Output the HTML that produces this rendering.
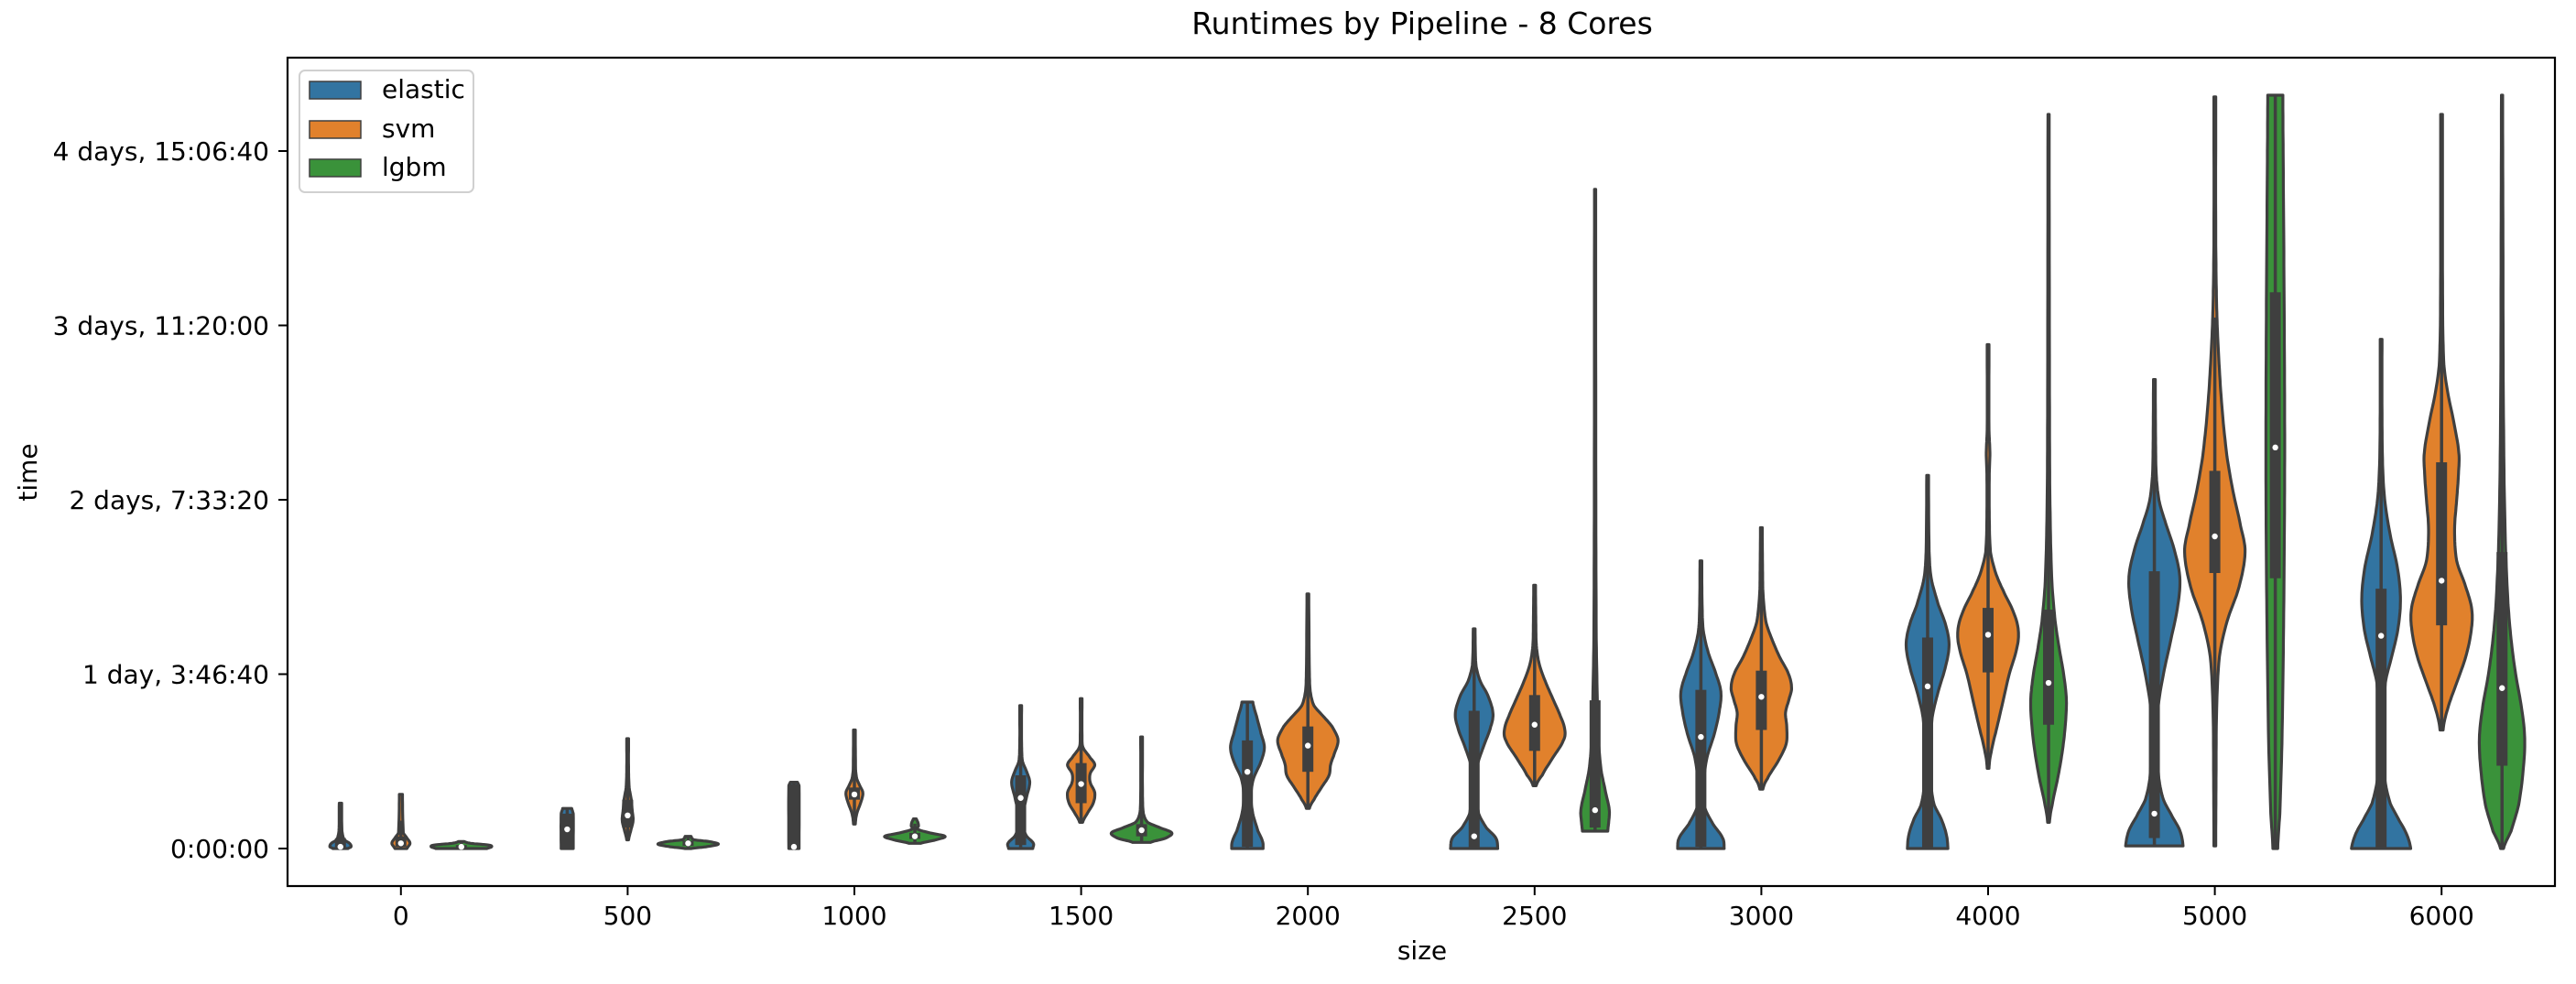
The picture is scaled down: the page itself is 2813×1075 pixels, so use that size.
<!DOCTYPE html>
<html><head><meta charset="utf-8"><style>
html,body{margin:0;padding:0;background:#fff;}
svg{display:block;font-family:"DejaVu Sans","Liberation Sans",sans-serif;}
</style></head><body>
<svg id="chart" width="2813" height="1075" viewBox="0 0 2813 1075" xmlns="http://www.w3.org/2000/svg">
<rect x="0" y="0" width="2813" height="1075" fill="#fff"/>
<text x="1553" y="37" font-size="33" text-anchor="middle" fill="#000">Runtimes by Pipeline - 8 Cores</text>
<g id="violins"></g>
<rect x="314" y="63" width="2476" height="905" fill="none" stroke="#000" stroke-width="2.2"/>
<g id="yticks"></g>
<g id="xticks"></g>
<text x="1553" y="1048" font-size="28" text-anchor="middle">size</text>
<text x="0" y="0" font-size="28" text-anchor="middle" transform="translate(40,516) rotate(-90)">time</text>
<g id="legend">
<rect x="327" y="77" width="190" height="133" rx="6" fill="#fff" fill-opacity="0.8" stroke="#d0d0d0" stroke-width="2"/>
<rect x="338" y="89" width="56" height="19" fill="#3274a1" stroke="#3f3f3f" stroke-width="1.5"/>
<text x="417" y="107" font-size="28">elastic</text>
<rect x="338" y="132" width="56" height="19" fill="#e1812c" stroke="#3f3f3f" stroke-width="1.5"/>
<text x="417" y="150" font-size="28">svm</text>
<rect x="338" y="174" width="56" height="19" fill="#3a923a" stroke="#3f3f3f" stroke-width="1.5"/>
<text x="417" y="192" font-size="28">lgbm</text>
</g>
</svg>
<script>
// ---- data (values in thousands of seconds) ----
const categories = ["0","500","1000","1500","2000","2500","3000","4000","5000","6000"];
const hues = ["elastic","svm","lgbm"];
const hueColors = ["#3274a1","#e1812c","#3a923a"];
const yTickValues = [0,100,200,300,400];
const yTickLabels = ["0:00:00","1 day, 3:46:40","2 days, 7:33:20","3 days, 11:20:00","4 days, 15:06:40"];

const violinCat = [0,0,0, 1,1,1, 2,2,2, 3,3,3, 4,4, 5,5,5, 6,6, 7,7,7, 8,8,8, 9,9,9];
const violinHue = [0,1,2, 0,1,2, 0,1,2, 0,1,2, 0,1, 0,1,2, 0,1, 0,1,2, 0,1,2, 0,1,2];
const violinQ1  = [0,1,0.5, 0,12,1.5, 0,28,5.5, 2,26,7, 1,44, 0,56,12, 1,68, 0,101,71, 6,158,155, 0,128,47.5];
const violinMed = [1,3,1, 11,19,3, 1,31,7, 29,37,10.5, 44,59, 7,71,22, 64,87, 93,122.6,95, 20,179,230, 122,153.6,92];
const violinQ3  = [6,7,2, 20,28,4.5, 37,35,9, 42,49,14, 62,70, 79,88,85, 91,102, 121,138,137, 159,216.6,319, 149,221.5,170];
const violinKnots = [
 [[0,0.25],[1,0.35],[3,0.3],[5,0.12],[10,0.05],[26,0.04]],
 [[0,0.2],[3,0.3],[6,0.2],[9,0.08],[31,0.05]],
 [[0,0.85],[1,1.0],[2,0.9],[3,0.3],[4,0.1]],
 [[0,0.2],[20,0.2],[23,0.15]],
 [[5,0.03],[10,0.1],[16,0.18],[22,0.15],[28,0.12],[35,0.05],[45,0.03],[63,0.03]],
 [[0,0.1],[1,0.6],[2.5,1.0],[4,0.7],[5,0.2],[7,0.1]],
 [[0,0.17],[36,0.17],[38,0.12]],
 [[14,0.03],[20,0.08],[27,0.22],[32,0.28],[36,0.18],[40,0.08],[45,0.04],[68,0.03]],
 [[3,0.2],[5,0.7],[7,1.0],[9,0.5],[11,0.1],[13,0.12],[15,0.1],[17,0.05]],
 [[0,0.4],[3,0.42],[7,0.2],[12,0.08],[20,0.08],[30,0.2],[38,0.3],[44,0.2],[50,0.06],[60,0.03],[82,0.03]],
 [[15,0.05],[20,0.2],[26,0.4],[32,0.45],[38,0.3],[43,0.3],[48,0.45],[52,0.3],[58,0.06],[65,0.03],[86,0.03]],
 [[3.5,0.3],[6,0.8],[9,1.0],[12,0.6],[15,0.2],[20,0.06],[30,0.03],[64,0.03]],
 [[0,0.52],[4,0.5],[10,0.35],[20,0.18],[30,0.12],[40,0.2],[50,0.45],[58,0.56],[66,0.45],[76,0.3],[84,0.18]],
 [[23,0.05],[28,0.2],[35,0.45],[42,0.7],[48,0.75],[53,0.85],[62,1.0],[70,0.8],[76,0.5],[82,0.2],[90,0.08],[100,0.05],[146,0.03]],
 [[0,0.78],[6,0.72],[12,0.4],[20,0.15],[35,0.08],[47,0.1],[58,0.3],[70,0.55],[78,0.62],[88,0.45],[96,0.2],[105,0.06],[126,0.03]],
 [[36,0.05],[42,0.25],[52,0.6],[62,0.95],[68,1.0],[76,0.85],[86,0.6],[96,0.35],[106,0.15],[116,0.06],[130,0.04],[151,0.03]],
 [[10,0.42],[15,0.45],[22,0.47],[32,0.35],[45,0.2],[60,0.12],[80,0.08],[120,0.04],[200,0.025],[378,0.02]],
 [[0,0.77],[6,0.72],[14,0.4],[24,0.12],[38,0.1],[52,0.2],[66,0.45],[80,0.62],[90,0.66],[100,0.5],[112,0.25],[125,0.08],[140,0.04],[165,0.03]],
 [[34,0.05],[40,0.2],[50,0.55],[60,0.82],[70,0.84],[78,0.8],[86,0.92],[92,1.0],[100,0.9],[110,0.6],[120,0.35],[130,0.15],[145,0.06],[160,0.04],[184,0.03]],
 [[0,0.67],[8,0.62],[17,0.45],[25,0.22],[35,0.12],[55,0.1],[75,0.15],[90,0.35],[105,0.6],[117,0.71],[128,0.6],[140,0.35],[155,0.12],[170,0.05],[214,0.03]],
 [[46,0.03],[55,0.1],[70,0.3],[85,0.5],[100,0.7],[115,0.95],[125,1.0],[135,0.85],[148,0.5],[158,0.25],[170,0.08],[190,0.04],[215,0.04],[227,0.06],[240,0.03],[289,0.03]],
 [[15,0.03],[25,0.12],[40,0.3],[55,0.45],[70,0.55],[85,0.59],[100,0.5],[115,0.35],[130,0.22],[150,0.12],[175,0.07],[210,0.04],[260,0.03],[421,0.02]],
 [[1.5,0.95],[10,0.85],[18,0.6],[28,0.3],[40,0.15],[60,0.1],[80,0.12],[100,0.3],[120,0.55],[140,0.78],[156,0.84],[172,0.65],[188,0.35],[200,0.15],[215,0.06],[235,0.04],[269,0.03]],
 [[1.5,0.03],[40,0.04],[80,0.06],[110,0.15],[130,0.4],[150,0.8],[170,1.0],[185,0.85],[205,0.6],[225,0.4],[250,0.25],[275,0.15],[300,0.08],[320,0.05],[350,0.03],[431,0.03]],
 [[0,0.08],[20,0.15],[60,0.22],[120,0.27],[180,0.3],[230,0.31],[290,0.3],[350,0.28],[400,0.26],[432,0.25]],
 [[0,0.98],[8,0.85],[16,0.6],[26,0.3],[40,0.12],[70,0.1],[95,0.14],[110,0.35],[125,0.55],[142,0.64],[160,0.55],[180,0.3],[200,0.12],[220,0.05],[250,0.03],[292,0.03]],
 [[68,0.05],[80,0.2],[95,0.5],[110,0.8],[125,0.98],[137,1.0],[150,0.8],[165,0.5],[183,0.43],[200,0.5],[215,0.56],[227,0.57],[245,0.4],[262,0.2],[277,0.08],[300,0.04],[350,0.03],[421,0.03]],
 [[0,0.05],[10,0.3],[25,0.55],[45,0.7],[63,0.75],[80,0.65],[100,0.45],[120,0.3],[140,0.2],[170,0.12],[210,0.07],[270,0.04],[350,0.03],[432,0.02]]
];

// ---- scales ----
const plotLeft = 314, plotRight = 2790;
const catW = (plotRight - plotLeft) / categories.length;
function xCat(i){ return plotLeft + (i + 0.5) * catW; }
function xHue(i, h){ return xCat(i) + (h - 1) * catW * 0.8 / 3; }
function yVal(v){ return 927 - v * 1.905; }
const maxHalf = catW * 0.8 / 3 / 2;
const NS = "http://www.w3.org/2000/svg";
function mk(tag, attrs, parent){
  const el = document.createElementNS(NS, tag);
  for (const k in attrs) el.setAttribute(k, attrs[k]);
  parent.appendChild(el); return el;
}

// ---- y axis ----
const yg = document.getElementById("yticks");
yTickValues.forEach((v, i) => {
  const y = yVal(v);
  const t = mk("line", {x1: plotLeft - 10, x2: plotLeft, y1: y, y2: y, stroke: "#000", "stroke-width": 2}, yg);
  
  
  const l = mk("text", {x: plotLeft - 20, y: y + 10, "font-size": 28, "text-anchor": "end"}, yg);
  l.textContent = yTickLabels[i];
  
  
});
// ---- x axis ----
const xg = document.getElementById("xticks");
categories.forEach((c, i) => {
  const x = xCat(i);
  const t = mk("line", {x1: x, x2: x, y1: 968, y2: 978, stroke: "#000", "stroke-width": 2}, xg);
  
  
  const l = mk("text", {x: x, y: 1010, "font-size": 28, "text-anchor": "middle"}, xg);
  l.textContent = c;
  
  
});

// ---- violins ----
function sampleKnots(k){
  const out = [];
  const n = k.length;
  for (let i = 0; i < n - 1; i++){
    const p0 = k[Math.max(0, i-1)], p1 = k[i], p2 = k[i+1], p3 = k[Math.min(n-1, i+2)];
    for (let s = 0; s < 8; s++){
      const t = s / 8, t2 = t*t, t3 = t2*t;
      const cr = (a,b,c,d) => 0.5*((2*b) + (-a+c)*t + (2*a-5*b+4*c-d)*t2 + (-a+3*b-3*c+d)*t3);
      out.push([p1[0] + (p2[0]-p1[0])*t, Math.max(0.012, cr(p0[1],p1[1],p2[1],p3[1]))]);
    }
  }
  out.push(k[n-1]);
  return out;
}
const vg = document.getElementById("violins");
violinKnots.forEach((knots, idx) => {
  const cx = xHue(violinCat[idx], violinHue[idx]);
  const pts = sampleKnots(knots);
  let right = pts.map(p => (cx + p[1]*maxHalf).toFixed(1) + "," + yVal(p[0]).toFixed(1));
  let left = pts.slice().reverse().map(p => (cx - p[1]*maxHalf).toFixed(1) + "," + yVal(p[0]).toFixed(1));
  const g = mk("g", {}, vg);
  
  
  const body = mk("polygon", {points: right.concat(left).join(" "), fill: hueColors[violinHue[idx]], stroke: "#3f3f3f", "stroke-width": 3.2, "stroke-linejoin": "round"}, g);
  
  
  const vmin = knots[0][0], vmax = knots[knots.length-1][0];
  const q1 = violinQ1[idx], q3 = violinQ3[idx], iqr = q3 - q1;
  const lo = Math.max(vmin, q1 - 1.5*iqr), hi = Math.min(vmax, q3 + 1.5*iqr);
  const wl = mk("line", {x1: cx, x2: cx, y1: yVal(lo), y2: yVal(hi), stroke: "#3f3f3f", "stroke-width": 3.5}, g);
  
  
  const bx = mk("rect", {x: cx - 6, y: yVal(q3), width: 12, height: Math.max(2, yVal(q1) - yVal(q3)), fill: "#3f3f3f"}, g);
  
  
  const md = mk("circle", {cx: cx, cy: yVal(violinMed[idx]), r: 3.2, fill: "#fff"}, g);
  
  
});
</script>
</body></html>
